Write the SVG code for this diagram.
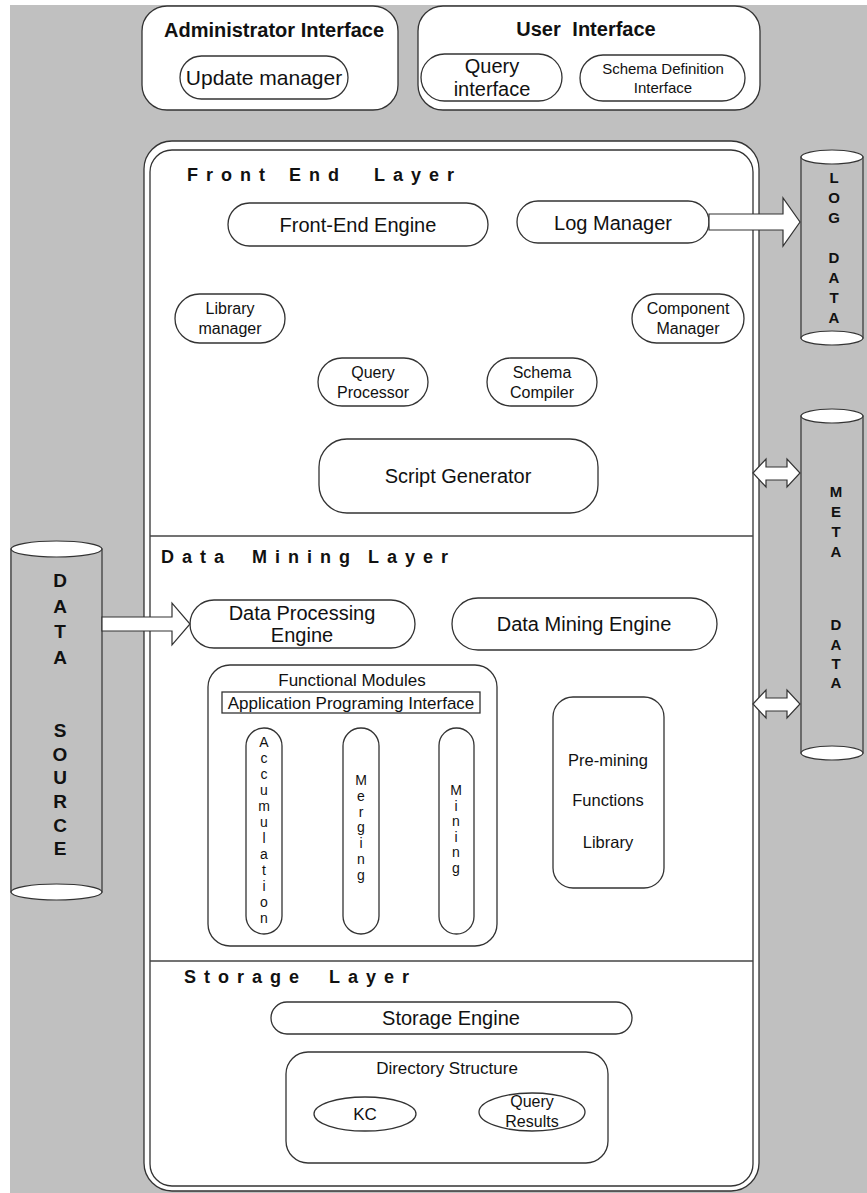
<svg xmlns="http://www.w3.org/2000/svg" width="867" height="1193" viewBox="0 0 867 1193">
<style>
.bg{fill:#c0c0c0}
.box{fill:#fff;stroke:#333;stroke-width:1.3}
.cyl{fill:#c0c0c0;stroke:#333;stroke-width:1.2}
.cap{fill:#fff;stroke:#333;stroke-width:1.2}
.arr{fill:#fff;stroke:#333;stroke-width:1.2}
.line{stroke:#444;stroke-width:1.5}
text{font-family:"Liberation Sans",Arial,sans-serif;fill:#111;text-anchor:middle}
.h{font-weight:bold;font-size:20px}
.layer{font-weight:bold;font-size:18px;text-anchor:start;letter-spacing:8px}
.t20{font-size:20px}
.t17{font-size:17px}
.t16{font-size:16px}
.t15{font-size:15px}
.v{font-size:14px}
.cy{font-weight:bold;font-size:15px}
.ds{font-weight:bold;font-size:19px}
</style>
<rect class="bg" x="10" y="5" width="857" height="1188"/>

<g id="admin-interface">
<rect class="box" x="142" y="6" width="256" height="104" rx="25"/>
<text class="h" x="274" y="37">Administrator Interface</text>
</g>
<g id="update-manager">
<rect class="box" x="180" y="56" width="168" height="43" rx="21.5"/>
<text x="264" y="85" font-size="21">Update manager</text>
</g>
<g id="user-interface">
<rect class="box" x="418" y="6" width="342" height="104" rx="25"/>
<text class="h" x="586" y="36" word-spacing="6">User Interface</text>
</g>
<g id="query-interface">
<rect class="box" x="421" y="54" width="141" height="47" rx="23.5"/>
<text class="t20" x="492" y="73">Query</text>
<text class="t20" x="492" y="96">interface</text>
</g>
<g id="schema-definition-interface">
<rect class="box" x="580" y="55" width="165" height="46" rx="23"/>
<text class="t15" x="663" y="74">Schema Definition</text>
<text class="t15" x="663" y="93">Interface</text>
</g>

<g id="main-container">
<rect class="box" x="144" y="141" width="615" height="1050" rx="28" stroke-width="1.5"/>
<rect class="box" x="150" y="150" width="603" height="1036" rx="22"/>
<line class="line" x1="150" y1="536" x2="753" y2="536"/>
<line class="line" x1="150" y1="961" x2="753" y2="961"/>
</g>

<g id="front-end-layer">
<text class="layer" x="187" y="181">Front</text>
<text class="layer" x="289" y="181">End</text>
<text class="layer" x="374" y="181">Layer</text>
</g>
<g id="front-end-engine">
<rect class="box" x="228" y="203" width="260" height="43" rx="21.5"/>
<text class="t20" x="358" y="232">Front-End Engine</text>
</g>
<g id="log-manager">
<rect class="box" x="517" y="201" width="192" height="42" rx="21"/>
<text class="t20" x="613" y="230">Log Manager</text>
</g>
<g id="library-manager">
<rect class="box" x="175" y="294" width="110" height="49" rx="24.5"/>
<text class="t16" x="230" y="314">Library</text>
<text class="t16" x="230" y="334">manager</text>
</g>
<g id="component-manager">
<rect class="box" x="632" y="294" width="112" height="49" rx="24.5"/>
<text class="t16" x="688" y="314">Component</text>
<text class="t16" x="688" y="334">Manager</text>
</g>
<g id="query-processor">
<rect class="box" x="318" y="358" width="110" height="48" rx="24"/>
<text class="t16" x="373" y="378">Query</text>
<text class="t16" x="373" y="398">Processor</text>
</g>
<g id="schema-compiler">
<rect class="box" x="487" y="358" width="110" height="48" rx="24"/>
<text class="t16" x="542" y="378">Schema</text>
<text class="t16" x="542" y="398">Compiler</text>
</g>
<g id="script-generator">
<rect class="box" x="319" y="439" width="279" height="74" rx="28"/>
<text class="t20" x="458" y="483">Script Generator</text>
</g>

<g id="data-mining-layer">
<text class="layer" x="161" y="563">Data</text>
<text class="layer" x="252" y="563">Mining</text>
<text class="layer" x="368" y="563">Layer</text>
</g>
<g id="data-processing-engine">
<rect class="box" x="190" y="600" width="225" height="48" rx="24"/>
<text class="t20" x="302" y="620">Data Processing</text>
<text class="t20" x="302" y="642">Engine</text>
</g>
<g id="data-mining-engine">
<rect class="box" x="452" y="598" width="265" height="52" rx="26"/>
<text class="t20" x="584" y="631">Data Mining Engine</text>
</g>
<g id="functional-modules">
<rect class="box" x="208" y="665" width="289" height="281" rx="22"/>
<text class="t17" x="352" y="686">Functional Modules</text>
</g>
<g id="api">
<rect class="box" x="222" y="692" width="258" height="21" stroke-width="1.6"/>
<text class="t17" x="351" y="709">Application Programing Interface</text>
</g>
<g id="accumulation">
<rect class="box" x="246" y="728" width="36" height="206" rx="18"/>
<text class="v" x="264" y="747">A</text><text class="v" x="264" y="763">c</text><text class="v" x="264" y="779">c</text><text class="v" x="264" y="795">u</text><text class="v" x="264" y="811">m</text><text class="v" x="264" y="827">u</text><text class="v" x="264" y="843">l</text><text class="v" x="264" y="859">a</text><text class="v" x="264" y="875">t</text><text class="v" x="264" y="891">i</text><text class="v" x="264" y="907">o</text><text class="v" x="264" y="923">n</text>
</g>
<g id="merging">
<rect class="box" x="343" y="728" width="36" height="206" rx="18"/>
<text class="v" x="361" y="785">M</text><text class="v" x="361" y="801">e</text><text class="v" x="361" y="817">r</text><text class="v" x="361" y="832">g</text><text class="v" x="361" y="848">i</text><text class="v" x="361" y="864">n</text><text class="v" x="361" y="880">g</text>
</g>
<g id="mining">
<rect class="box" x="439" y="728" width="35" height="206" rx="17.5"/>
<text class="v" x="456" y="795">M</text><text class="v" x="456" y="811">i</text><text class="v" x="456" y="826">n</text><text class="v" x="456" y="842">i</text><text class="v" x="456" y="857">n</text><text class="v" x="456" y="873">g</text>
</g>
<g id="pre-mining-library">
<rect class="box" x="553" y="697" width="111" height="191" rx="20"/>
<text x="608" y="766" font-size="16.5">Pre-mining</text>
<text x="608" y="806" font-size="16.5">Functions</text>
<text x="608" y="848" font-size="16.5">Library</text>
</g>

<g id="storage-layer">
<text class="layer" x="184" y="983" letter-spacing="7">Storage</text>
<text class="layer" x="329" y="983">Layer</text>
</g>
<g id="storage-engine">
<rect class="box" x="271" y="1002" width="361" height="32" rx="16"/>
<text class="t20" x="451" y="1025">Storage Engine</text>
</g>
<g id="directory-structure">
<rect class="box" x="286" y="1052" width="322" height="111" rx="22"/>
<text class="t17" x="447" y="1074">Directory Structure</text>
</g>
<g id="kc">
<ellipse class="box" cx="365" cy="1114" rx="51" ry="17"/>
<text class="t17" x="365" y="1120">KC</text>
</g>
<g id="query-results">
<ellipse class="box" cx="532" cy="1112" rx="53" ry="19"/>
<text x="532" y="1107" font-size="16">Query</text>
<text x="532" y="1127" font-size="16">Results</text>
</g>

<g id="log-data">
<rect class="cyl" x="801" y="157" width="62" height="181"/>
<ellipse class="cap" cx="832" cy="338" rx="31" ry="7"/>
<ellipse class="cap" cx="832" cy="157" rx="31" ry="7"/>
<text class="cy" x="834" y="183">L</text><text class="cy" x="834" y="203">O</text><text class="cy" x="834" y="223">G</text>
<text class="cy" x="834" y="263">D</text><text class="cy" x="834" y="283">A</text><text class="cy" x="834" y="303">T</text><text class="cy" x="834" y="323">A</text>
</g>
<g id="meta-data">
<rect class="cyl" x="801" y="416" width="62" height="337"/>
<ellipse class="cap" cx="832" cy="753" rx="31" ry="7"/>
<ellipse class="cap" cx="832" cy="416" rx="31" ry="7"/>
<text class="cy" x="836" y="497">M</text><text class="cy" x="836" y="517">E</text><text class="cy" x="836" y="537">T</text><text class="cy" x="836" y="557">A</text>
<text class="cy" x="836" y="630">D</text><text class="cy" x="836" y="650">A</text><text class="cy" x="836" y="669">T</text><text class="cy" x="836" y="688">A</text>
</g>
<g id="data-source">
<rect class="cyl" x="11" y="549" width="91" height="343"/>
<ellipse class="cap" cx="56.5" cy="892" rx="45.5" ry="8"/>
<ellipse class="cap" cx="56.5" cy="549" rx="45.5" ry="8"/>
<text class="ds" x="60" y="587">D</text><text class="ds" x="60" y="613">A</text><text class="ds" x="60" y="638">T</text><text class="ds" x="60" y="664">A</text>
<text class="ds" x="60" y="737">S</text><text class="ds" x="60" y="761">O</text><text class="ds" x="60" y="784">U</text><text class="ds" x="60" y="808">R</text><text class="ds" x="60" y="832">C</text><text class="ds" x="60" y="855">E</text>
</g>

<g id="connectors">
<polygon class="arr" points="709,214 783,214 783,198 800,222 783,246 783,230 709,230"/>
<polygon class="arr" points="102,617 172,617 172,603 190,624 172,645 172,631 102,631"/>
<polygon class="arr" points="753,473 766,459 766,467 787,467 787,459 800,473 787,487 787,480 766,480 766,487"/>
<polygon class="arr" points="753,704 766,690 766,698 787,698 787,690 800,704 787,718 787,711 766,711 766,718"/>
</g>
</svg>
